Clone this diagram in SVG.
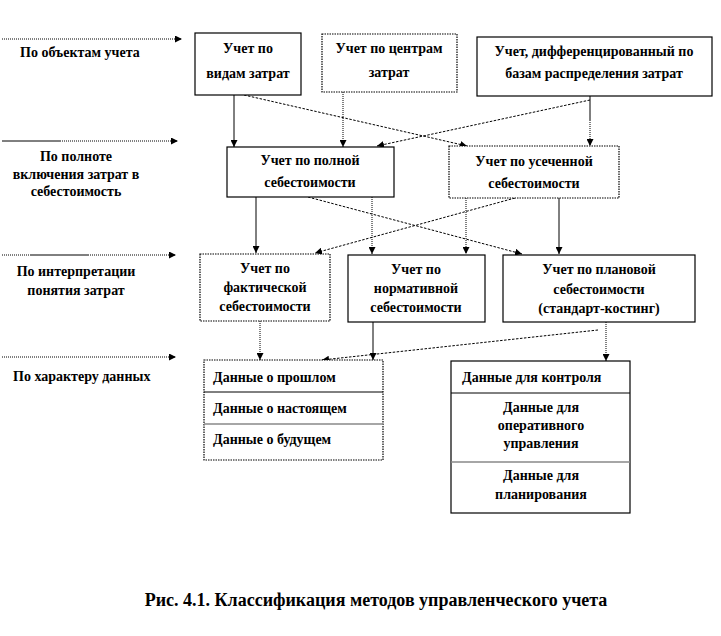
<svg xmlns="http://www.w3.org/2000/svg" width="721" height="636" viewBox="0 0 721 636">
<style>
text{font-family:"Liberation Serif","DejaVu Serif",serif;font-weight:bold;font-size:14px;fill:#000}
.c{text-anchor:middle}
.box{fill:#fff;stroke:#000;stroke-width:1.2}
.dot{stroke-dasharray:1.5 1}
.ln{fill:none;stroke:#000;stroke-width:1}
.ds{stroke-dasharray:2.5 1.5}
.dt{stroke-dasharray:1 1}
.cap{font-size:18px}
</style>
<defs>
<marker id="ah" viewBox="0 0 10 10" refX="10" refY="5" markerWidth="7" markerHeight="7" orient="auto" markerUnits="userSpaceOnUse">
<path d="M0,0 L10,5 L0,10 z" fill="#000"/>
</marker>
</defs>
<rect width="721" height="636" fill="#fff"/>

<g id="levels">
<line class="ln dt" x1="2" y1="39" x2="182" y2="39" marker-end="url(#ah)"/>
<text x="20" y="57">По объектам учета</text>
<line class="ln" x1="2" y1="141" x2="60" y2="141"/>
<line class="ln dt" x1="60" y1="141" x2="178" y2="141" marker-end="url(#ah)"/>
<text class="c" x="76" y="161">По полноте</text>
<text class="c" x="76" y="179">включения затрат в</text>
<text class="c" x="76" y="196">себестоимость</text>
<line class="ln dt" x1="2" y1="255" x2="30" y2="255"/>
<line class="ln" x1="30" y1="255" x2="88" y2="255"/>
<line class="ln dt" x1="88" y1="255" x2="176" y2="255" marker-end="url(#ah)"/>
<text class="c" x="76" y="276">По интерпретации</text>
<text class="c" x="76" y="295">понятия затрат</text>
<line class="ln dt" x1="2" y1="357" x2="176" y2="357" marker-end="url(#ah)"/>
<text x="13" y="381">По характеру  данных</text>
</g>

<g id="connectors">
<line class="ln" x1="234" y1="95" x2="234" y2="147" marker-end="url(#ah)"/>
<line class="ln ds" x1="244" y1="95" x2="467" y2="146" marker-end="url(#ah)"/>
<line class="ln dt" x1="343" y1="92" x2="343" y2="147" marker-end="url(#ah)"/>
<line class="ln ds" x1="590" y1="100" x2="377" y2="146" marker-end="url(#ah)"/>
<line class="ln" x1="590" y1="96" x2="590" y2="120"/>
<line class="ln dt" x1="590" y1="120" x2="590" y2="146" marker-end="url(#ah)"/>

<line class="ln" x1="256" y1="197" x2="256" y2="253" marker-end="url(#ah)"/>
<line class="ln ds" x1="308" y1="197" x2="522" y2="254" marker-end="url(#ah)"/>
<line class="ln dt" x1="372" y1="197" x2="372" y2="254" marker-end="url(#ah)"/>
<line class="ln dt" x1="466" y1="198" x2="466" y2="254" marker-end="url(#ah)"/>
<line class="ln ds" x1="515" y1="198" x2="315" y2="253" marker-end="url(#ah)"/>
<line class="ln" x1="559" y1="198" x2="559" y2="254" marker-end="url(#ah)"/>

<line class="ln dt" x1="260" y1="321" x2="260" y2="360" marker-end="url(#ah)"/>
<line class="ln" x1="373" y1="322" x2="373" y2="360" marker-end="url(#ah)"/>
<line class="ln ds" x1="598" y1="330" x2="322" y2="360" marker-end="url(#ah)"/>
<line class="ln dt" x1="606" y1="322" x2="606" y2="361" marker-end="url(#ah)"/>
</g>

<g id="n-vidy">
<rect class="box" x="195" y="33" width="106" height="62"/>
<text class="c" x="248" y="53">Учет по</text>
<text class="c" x="248" y="78">видам затрат</text>
</g>
<g id="n-centry">
<rect class="box dot" x="322" y="34" width="135" height="58"/>
<text class="c" x="389" y="53">Учет по центрам</text>
<text class="c" x="389" y="77">затрат</text>
</g>
<g id="n-bazy">
<rect class="box" x="477" y="37" width="235" height="59"/>
<text class="c" x="594" y="56">Учет, дифференцированный по</text>
<text class="c" x="594" y="78">базам распределения затрат</text>
</g>
<g id="n-polnaya">
<rect class="box" x="227" y="147" width="167" height="50"/>
<text class="c" x="310" y="165">Учет по полной</text>
<text class="c" x="310" y="187">себестоимости</text>
</g>
<g id="n-usech">
<rect class="box dot" x="449" y="146" width="170" height="52"/>
<text class="c" x="534" y="166">Учет по усеченной</text>
<text class="c" x="534" y="188">себестоимости</text>
</g>
<g id="n-fakt">
<rect class="box dot" x="200" y="254" width="130" height="67"/>
<text class="c" x="265" y="273">Учет по</text>
<text class="c" x="265" y="292">фактической</text>
<text class="c" x="265" y="311">себестоимости</text>
</g>
<g id="n-norm">
<rect class="box" x="348" y="255" width="137" height="67"/>
<text class="c" x="416" y="274">Учет по</text>
<text class="c" x="416" y="293">нормативной</text>
<text class="c" x="416" y="312">себестоимости</text>
</g>
<g id="n-plan">
<rect class="box" x="503" y="255" width="192" height="67"/>
<text class="c" x="599" y="274">Учет по плановой</text>
<text class="c" x="599" y="294">себестоимости</text>
<text class="c" x="599" y="313">(стандарт-костинг)</text>
</g>
<g id="n-dannye1">
<rect class="box dot" x="204" y="360" width="179" height="100"/>
<line class="ln" x1="204" y1="392" x2="383" y2="392"/>
<line x1="204" y1="424" x2="383" y2="424" stroke="#888" stroke-width="1.5"/>
<text x="213" y="382">Данные о прошлом</text>
<text x="213" y="413">Данные о настоящем</text>
<text x="213" y="444">Данные о будущем</text>
</g>
<g id="n-dannye2">
<rect class="box" x="451" y="361" width="179" height="152"/>
<line class="ln" x1="451" y1="393" x2="630" y2="393"/>
<line x1="451" y1="462" x2="630" y2="462" stroke="#888" stroke-width="1.5"/>
<text x="462" y="382">Данные для контроля</text>
<text class="c" x="541" y="412">Данные для</text>
<text class="c" x="541" y="430">оперативного</text>
<text class="c" x="541" y="448">управления</text>
<text class="c" x="541" y="480">Данные для</text>
<text class="c" x="541" y="499">планирования</text>
</g>

<text class="cap c" x="376" y="606">Рис. 4.1. Классификация методов управленческого учета</text>
</svg>
